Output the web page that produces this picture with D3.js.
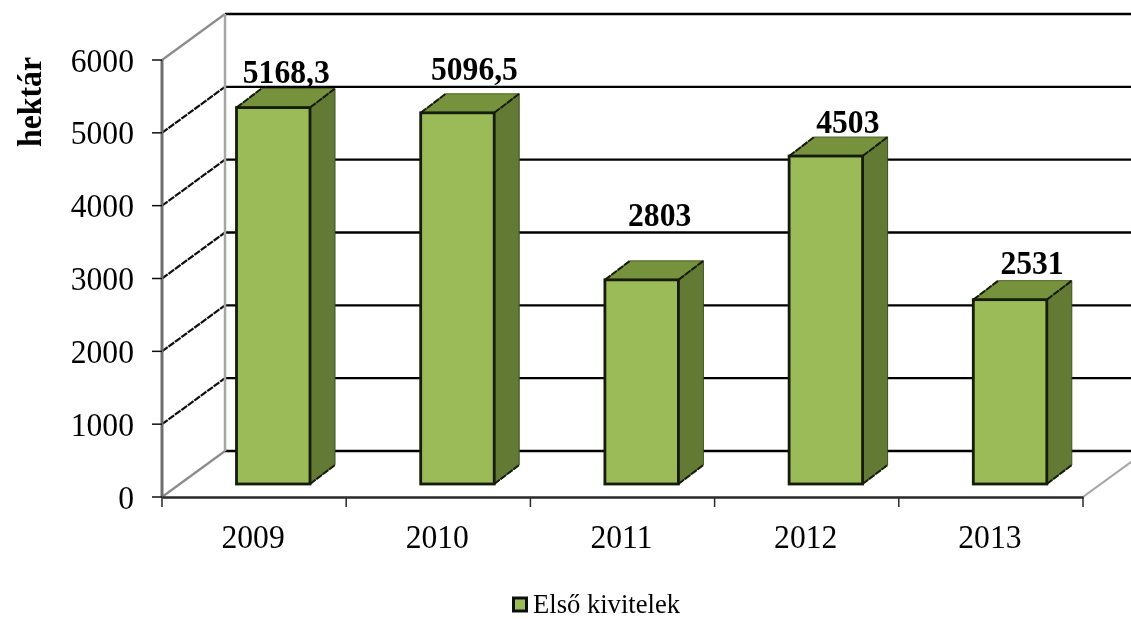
<!DOCTYPE html>
<html><head><meta charset="utf-8">
<script src="https://cdn.jsdelivr.net/npm/d3@7"></script>
<style>html,body{margin:0;padding:0;background:#fff}svg{display:block}text{font-family:"Liberation Serif","Times New Roman",serif;fill:#000}</style>
</head><body><svg id="c" width="1131" height="619"></svg>
<script>
const categories=["2009","2010","2011","2012","2013"];
const values=[5168.3,5096.5,2803,4503,2531];
const valueLabels=["5168,3","5096,5","2803","4503","2531"];
const yTicks=[0,1000,2000,3000,4000,5000,6000];
const seriesName="Első kivitelek";
const axisTitle="hektár";
const labelLift=[25,33,54,23,26];
const labelShift=[13,17,18,22,22];

const W=1131,H=619,wallX=63,wallY=-46,depthX=25,depthY=-19;
const svg=d3.select("#c");
const defs=svg.append("defs");
defs.append("filter").attr("id","soft").attr("x","-5%").attr("y","-5%").attr("width","110%").attr("height","110%")
  .append("feGaussianBlur").attr("stdDeviation",0.5);
defs.append("clipPath").attr("id","clip").append("rect").attr("width",W).attr("height",H);
const root=svg.append("g").attr("filter","url(#soft)");
const x=d3.scaleBand().domain(categories).range([162,1083]);
const y=d3.scaleLinear().domain([0,6000]).range([497,60]);
const barFloorY=484, barW=73.5, barInset=74.5;
const hBar=v=>y(0)-y(v);
const squeeze=function(){d3.select(this).attr("textLength",this.getComputedTextLength()*0.93).attr("lengthAdjust","spacingAndGlyphs");};

const gCol="#000", wallCol="#a6a6a6", axisCol="#6e6e6e", edgeCol="#141a08";
const walls=root.append("g").attr("clip-path","url(#clip)");
walls.selectAll("line.grid").data(yTicks).join("line").attr("class","grid")
  .attr("x1",162+wallX).attr("x2",1083+wallX)
  .attr("y1",d=>y(d)+wallY).attr("y2",d=>y(d)+wallY)
  .attr("stroke",gCol).attr("stroke-width",2.4);
walls.selectAll("line.side").data(yTicks).join("line").attr("class","side")
  .attr("x1",162).attr("x2",162+wallX)
  .attr("y1",d=>y(d)).attr("y2",d=>y(d)+wallY)
  .attr("stroke",d=>(d===0||d===6000)?"#8c8c8c":"#111").attr("stroke-width",2.2)
  .attr("stroke-dasharray",d=>(d===0||d===6000)?null:"7 1");
walls.append("line").attr("x1",225).attr("x2",225).attr("y1",y(6000)+wallY).attr("y2",y(0)+wallY).attr("stroke",wallCol).attr("stroke-width",2.5);
walls.append("line").attr("x1",162).attr("x2",162).attr("y1",y(6000)).attr("y2",y(0)).attr("stroke",axisCol).attr("stroke-width",3);
walls.append("line").attr("x1",1083).attr("x2",1083+wallX).attr("y1",y(0)).attr("y2",y(0)+wallY).attr("stroke",wallCol).attr("stroke-width",2);
const axB=d3.axisBottom(x).tickValues([]).tickSize(0);
root.append("g").attr("transform",`translate(0,${y(0)})`).call(axB).call(g=>g.select(".domain").attr("stroke","#2a2a2a").attr("stroke-width",2.5));
const edges=d3.range(categories.length+1).map(i=>162+i*x.step());
root.selectAll("line.xt").data(edges).join("line").attr("class","xt").attr("x1",d=>d).attr("x2",d=>d).attr("y1",y(0)).attr("y2",y(0)+10).attr("stroke","#2a2a2a").attr("stroke-width",1.5);
root.selectAll("text.xl").data(categories).join("text").attr("class","xl").attr("x",d=>x(d)+x.bandwidth()/2-1).attr("y",548).attr("text-anchor","middle").attr("font-size",34).text(d=>d).each(squeeze);
root.selectAll("line.yt").data(yTicks).join("line").attr("class","yt").attr("x1",152).attr("x2",162).attr("y1",d=>y(d)).attr("y2",d=>y(d)).attr("stroke","#111").attr("stroke-width",1.5);
root.selectAll("text.yl").data(yTicks).join("text").attr("class","yl").attr("x",134).attr("y",d=>y(d)+11.5).attr("text-anchor","end").attr("font-size",34).text(d=>d).each(squeeze);
root.append("text").attr("transform","translate(41,102) rotate(-90)").attr("text-anchor","middle").attr("font-size",33).attr("font-weight","bold").text(axisTitle).each(function(){d3.select(this).attr("textLength",90).attr("lengthAdjust","spacingAndGlyphs");});
const bars=root.selectAll("g.bar").data(categories.map((c,i)=>({c,v:values[i]}))).join("g").attr("class","bar");
const L=d=>x(d.c)+barInset, R=d=>L(d)+barW, T=d=>barFloorY-hBar(d.v);
bars.append("path").attr("d",d=>d3.line()([[L(d),T(d)],[L(d)+depthX,T(d)+depthY],[R(d)+depthX,T(d)+depthY],[R(d),T(d)]])+"Z")
  .attr("fill","#76923c").attr("stroke","#4f6128").attr("stroke-width",1);
bars.append("path").attr("d",d=>d3.line()([[R(d),T(d)],[R(d)+depthX,T(d)+depthY],[R(d)+depthX,barFloorY+depthY],[R(d),barFloorY]])+"Z")
  .attr("fill","#637a36").attr("stroke","#3f4e20").attr("stroke-width",1);
const diag=(sel,fx,fy)=>sel.append("line").attr("x1",fx).attr("y1",fy).attr("x2",d=>fx(d)+depthX).attr("y2",d=>fy(d)+depthY).attr("stroke",edgeCol).attr("stroke-width",2).attr("stroke-dasharray","7 1");
diag(bars,L,T);diag(bars,R,T);diag(bars,R,()=>barFloorY);
bars.append("rect").attr("x",L).attr("width",barW).attr("y",T).attr("height",d=>hBar(d.v))
  .attr("fill","#9bbb59").attr("stroke",edgeCol).attr("stroke-width",2.8);
root.selectAll("text.vl").data(categories).join("text").attr("class","vl")
  .attr("x",(d,i)=>x(d)+barInset+barW/2+labelShift[i])
  .attr("y",(d,i)=>barFloorY-hBar(values[i])-labelLift[i])
  .attr("text-anchor","middle").attr("font-size",34).attr("font-weight","bold").text((d,i)=>valueLabels[i]).each(squeeze);
root.append("rect").attr("x",513.5).attr("y",598).attr("width",13).attr("height",13).attr("fill","#9bbb59").attr("stroke","#111").attr("stroke-width",3);
root.append("text").attr("x",533).attr("y",613).attr("font-size",26.6).text(seriesName);
</script></body></html>
